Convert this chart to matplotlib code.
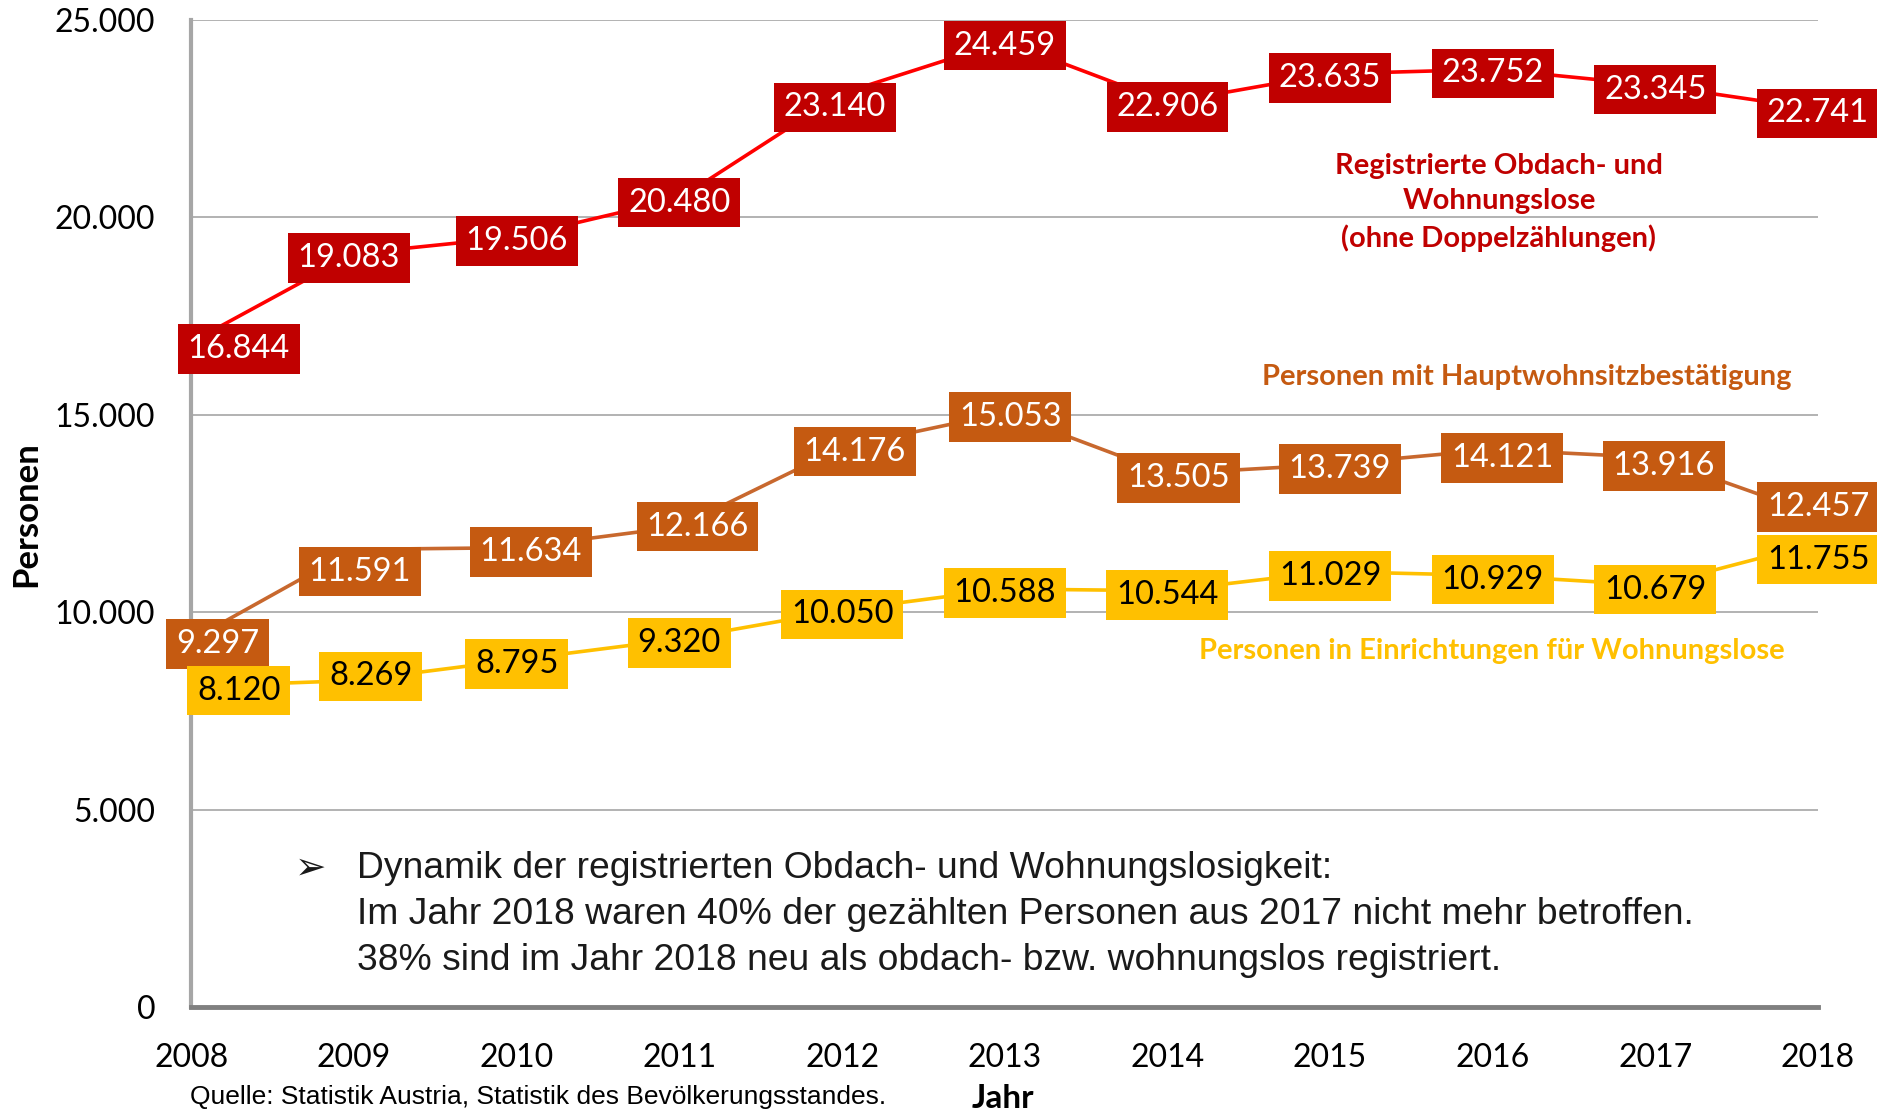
import matplotlib
matplotlib.use('Agg')
import matplotlib.pyplot as plt
from matplotlib.ticker import FuncFormatter

# Data
years = [2008, 2009, 2010, 2011, 2012, 2013, 2014, 2015, 2016, 2017, 2018]
registrierte = [16844, 19083, 19506, 20480, 23140, 24459, 22906, 23635, 23752, 23345, 22741]
hauptwohnsitz = [9297, 11591, 11634, 12166, 14176, 15053, 13505, 13739, 14121, 13916, 12457]
einrichtungen = [8120, 8269, 8795, 9320, 10050, 10588, 10544, 11029, 10929, 10679, 11755]
yticks = [0, 5000, 10000, 15000, 20000, 25000]

# label nudges (points), as placed by hand in the original
red_dx = [34, -4, 0, 0, -5, 0, 0, 0, 0, 0, 0]
red_dy = [-2, 0, 0, 0, -7, 0, 0, 0, 0, 0, 0]
ora_dx = [19, 4, 10, 13, 9, 4, 8, 7, 7, 6, 0]
ora_dy = [0, -13, 0, 3, 0, 0, 0, 0, -3, -3, 9]
yel_dx = [34, 12, 0, 0, 0, 0, 0, 0, 0, 0, 0]
yel_dy = [0, 6, 0, 0, 0, 0, 0, 0, 0, 0, -9]

def de(v):
    return f'{v:,.0f}'.replace(',', '.')

fig = plt.figure(figsize=(18.77, 11.11), dpi=100)
ax = fig.add_axes([0.102, 0.0936, 0.8666, 0.8884])

series = [
    (registrierte, '#FF0000', '#C00000', 'white', red_dx, red_dy),
    (hauptwohnsitz, '#C8682E', '#C55A11', 'white', ora_dx, ora_dy),
    (einrichtungen, '#FFC000', '#FFC000', 'black', yel_dx, yel_dy),
]
for vals, lc, bc, tc, dxs, dys in series:
    ax.plot(years, vals, color=lc, lw=2.6, zorder=3, clip_on=False)
for vals, lc, bc, tc, dxs, dys in series:
    for x, v, dx, dy in zip(years, vals, dxs, dys):
        ax.annotate(de(v), (x, v), xytext=(dx, dy - 3), textcoords='offset points',
                    ha='center', va='center', fontsize=23.5, family='Lato', color=tc,
                    bbox=dict(boxstyle='square,pad=0.3', fc=bc, ec='none'),
                    zorder=5, annotation_clip=False)

ax.set_xlim(2008, 2018)
ax.set_ylim(0, 25000)
ax.set_xticks(years)
ax.set_yticks(yticks)
ax.yaxis.set_major_formatter(FuncFormatter(lambda v, p: de(v)))
ax.grid(axis='y', color='#A6A6A6', lw=1.2)
ax.set_axisbelow(True)
ax.tick_params(length=0, labelsize=23)
ax.tick_params(axis='y', pad=26)
ax.tick_params(axis='x', pad=26)
for lab in ax.get_xticklabels() + ax.get_yticklabels():
    lab.set_family('Lato')
    lab.set_color('black')

for s in ['top', 'right']:
    ax.spines[s].set_visible(False)
ax.spines['left'].set_color('#A6A6A6')
ax.spines['left'].set_linewidth(3)
ax.spines['bottom'].set_color('#808080')
ax.spines['bottom'].set_linewidth(3.5)
ax.spines['bottom'].set_zorder(6)

fig.text(0.014, 0.537, 'Personen', rotation=90, ha='center', va='center',
         fontsize=25, fontweight='bold', family='Lato')
fig.text(0.5345, 0.0115, 'Jahr', ha='center', va='center',
         fontsize=24, fontweight='bold', family='Lato')
fig.text(0.101, 0.0125, 'Quelle: Statistik Austria, Statistik des Bevölkerungsstandes.',
         ha='left', va='center', fontsize=19, family='Liberation Sans')

fig.text(0.7986, 0.818, 'Registrierte Obdach- und\nWohnungslose\n(ohne Doppelzählungen)',
         ha='center', va='center', fontsize=21, fontweight='bold', family='Lato',
         color='#C00000', linespacing=1.45)
fig.text(0.8136, 0.6607, 'Personen mit Hauptwohnsitzbestätigung', ha='center', va='center',
         fontsize=21, fontweight='bold', family='Lato', color='#C55A11')
fig.text(0.795, 0.414, 'Personen in Einrichtungen für Wohnungslose', ha='center', va='center',
         fontsize=21, fontweight='bold', family='Lato', color='#FFC000')

fig.text(0.157, 0.2185, '➢', ha='left', va='center', fontsize=27, family='DejaVu Sans',
         color='#1A1A1A')
notes = ['Dynamik der registrierten Obdach- und Wohnungslosigkeit:',
         'Im Jahr 2018 waren 40% der gezählten Personen aus 2017 nicht mehr betroffen.',
         '38% sind im Jahr 2018 neu als obdach- bzw. wohnungslos registriert.']
for i, line in enumerate(notes):
    fig.text(0.190, 0.2182 - i * 0.0414, line, ha='left', va='center',
             fontsize=26.8, family='Liberation Sans', color='#1A1A1A')

fig.savefig('out.png', dpi=100)
